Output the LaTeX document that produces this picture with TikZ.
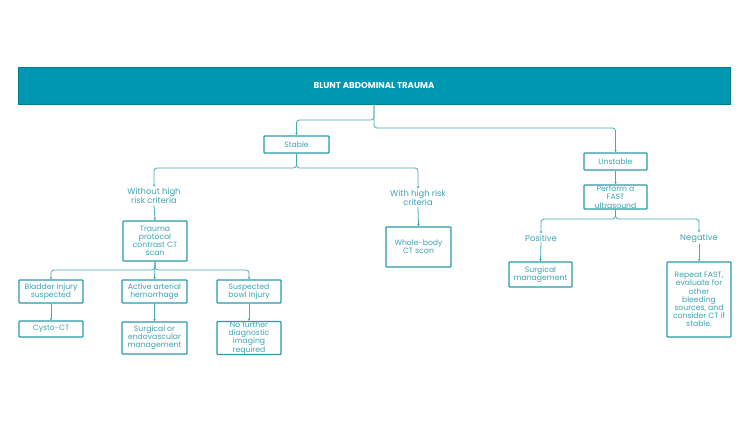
\documentclass[tikz,border=0pt]{standalone}
\usepackage{fontspec}
\setmainfont{Poppins}
\usetikzlibrary{arrows.meta}
\definecolor{batteal}{HTML}{0097B2}
\definecolor{batline}{HTML}{2A9AAA}
\definecolor{battext}{HTML}{3AA3B0}

\begin{document}
\begin{tikzpicture}[x=1pt, y=-1pt,
  box/.style={draw=batline, line width=1.2pt, rounded corners=0.8pt, align=center,
    inner sep=0.5pt, text=battext, font=\fontsize{7.7}{8.1}\selectfont},
  lbl/.style={align=center, inner sep=1pt, text=battext, font=\fontsize{8.4}{8.4}\selectfont},
  conn/.style={draw=batline!85, line width=0.8pt, rounded corners=3pt,
    -{Stealth[length=2.5pt,width=2.5pt]}}]
  \useasboundingbox (0,0) rectangle (750,422);

  % Banner
  \node[fill=batteal, draw=batteal!80!black, line width=0.3pt, minimum width=712pt, minimum height=37pt,
    text=white, font=\fontsize{8.6}{9}\selectfont\bfseries] (bat) at (374,85.5) {BLUNT ABDOMINAL TRAUMA};

  % Stable branch
  \node[box, minimum width=65pt, minimum height=17pt] (stable) at (296.5,144.5) {Stable};
  \node[lbl] (without) at (154,196) {Without high\\risk criteria};
  \node[lbl] (with) at (418,198) {With high risk\\criteria};
  \node[box, minimum width=64pt, minimum height=40pt] (trauma) at (155,241) {Trauma\\protocol\\contrast CT\\scan};
  \node[box, minimum width=65pt, minimum height=40pt] (whole) at (418.5,247) {Whole-body\\CT scan};

  % Findings after CT
  \node[box, minimum width=64pt, minimum height=23pt] (bladder) at (51,291.5) {Bladder injury\\suspected};
  \node[box, minimum width=65pt, minimum height=23pt] (active) at (154.5,291.5) {Active arterial\\hemorrhage};
  \node[box, minimum width=64pt, minimum height=23pt] (bowel) at (249,291.5) {Suspected\\bowl Injury};
  \node[box, minimum width=64pt, minimum height=16pt] (cysto) at (51,329) {Cysto-CT};
  \node[box, minimum width=65pt, minimum height=32pt] (endo) at (154.5,338) {Surgical or\\endovascular\\management};
  \node[box, minimum width=64pt, minimum height=32pt] (nofurther) at (249,338) {No further\\diagnostic\\imaging\\required};

  % Unstable branch
  \node[box, minimum width=63pt, minimum height=17pt] (unstable) at (615.5,161.5) {Unstable};
  \node[box, minimum width=63pt, minimum height=24pt] (fast) at (615.5,197) {Perform a\\FAST\\ultrasound};
  \node[lbl] (positive) at (541,238) {Positive};
  \node[lbl] (negative) at (699,238) {Negative};
  \node[box, minimum width=63pt, minimum height=25pt] (surgical) at (540.5,274.5) {Surgical\\management};
  \node[box, minimum width=64pt, minimum height=75pt] (repeat) at (699,299.5) {Repeat FAST,\\evaluate for\\other\\bleeding\\sources, and\\consider CT if\\stable.};

  % Connectors
  \draw[conn] (bat.south) -- (bat.south |- 0,120) -| (stable.north);
  \draw[conn] (bat.south) -- (bat.south |- 0,128) -| (unstable.north);
  \draw[conn] (stable.south) -- (stable.south |- 0,168) -| (without.north);
  \draw[conn] (stable.south) -- (stable.south |- 0,168) -| (with.north);
  \draw[conn] (without.south) -- (trauma.north);
  \draw[conn] (with.south) -- (whole.north);
  \draw[conn] (trauma.south) -- (trauma.south |- 0,270) -| (bladder.north);
  \draw[conn] (trauma.south) -- (active.north);
  \draw[conn] (trauma.south) -- (trauma.south |- 0,270) -| (bowel.north);
  \draw[conn] (bladder.south) -- (cysto.north);
  \draw[conn] (active.south) -- (endo.north);
  \draw[conn] (bowel.south) -- (nofurther.north);
  \draw[conn] (unstable.south) -- (fast.north);
  \draw[conn] (fast.south) -- (fast.south |- 0,219) -| (positive.north);
  \draw[conn] (fast.south) -- (fast.south |- 0,219) -| (negative.north);
  \draw[conn] (positive.south) -- (surgical.north);
  \draw[conn] (negative.south) -- (repeat.north);
\end{tikzpicture}
\end{document}
